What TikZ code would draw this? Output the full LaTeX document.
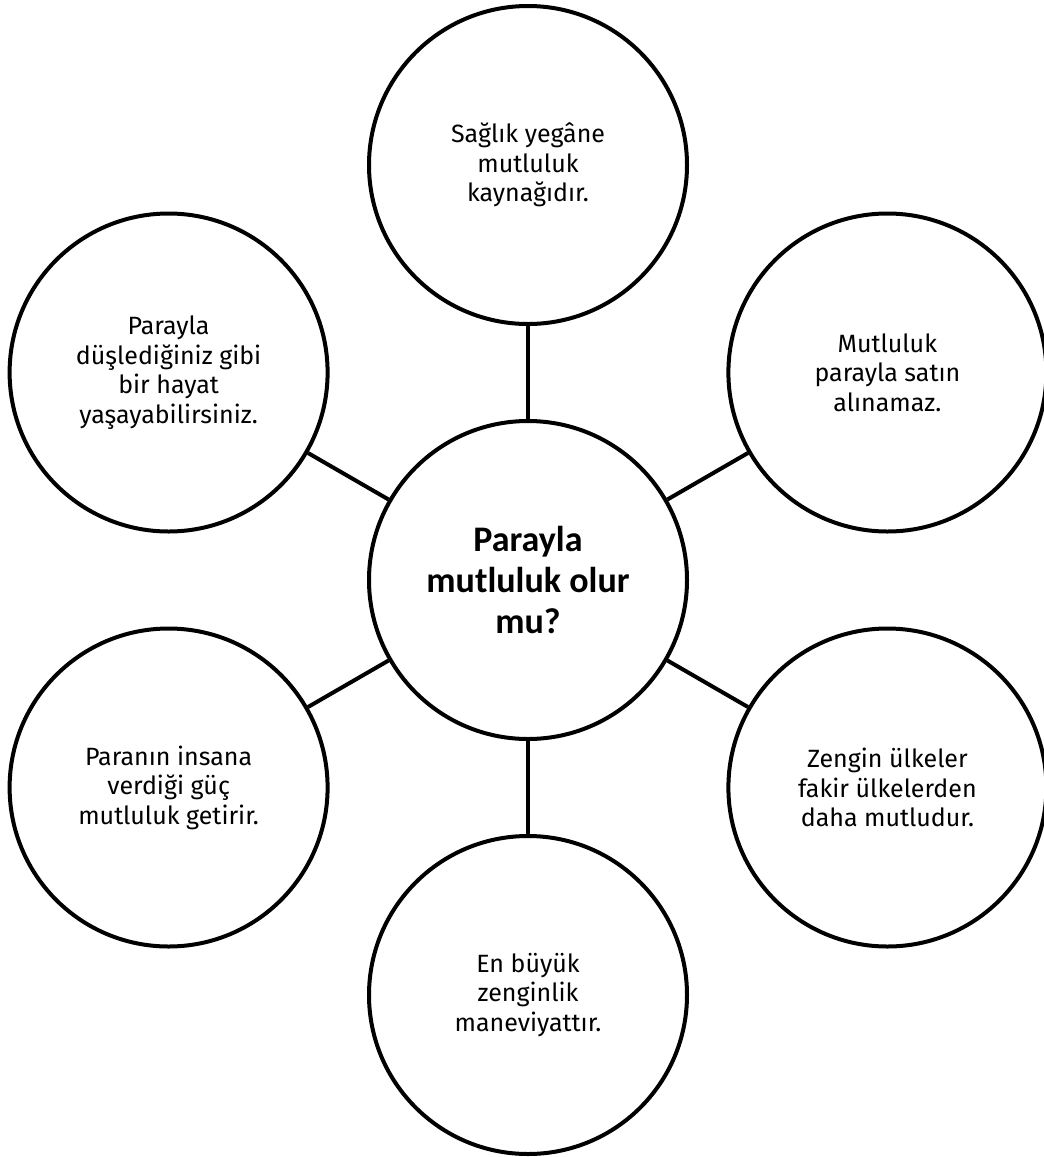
\documentclass[tikz,border=0pt]{standalone}
\usepackage{fontspec}
\setmainfont{Fira Sans}
\newfontfamily\centerfont{Carlito}
\begin{document}
\begin{tikzpicture}[x=1pt,y=-1pt,
  bubble/.style={circle,draw=black,line width=4pt,fill=white,inner sep=0pt,
    minimum size=318pt,align=center,font=\fontsize{25}{29.5}\selectfont},
  hub/.style={bubble,font=\centerfont\bfseries\fontsize{36}{41}\selectfont},
  link/.style={draw=black,line width=4pt}]
\useasboundingbox (0,0) rectangle (1044,1157);
\node[hub] (c) at (528,580) {Parayla\\mutluluk olur\\mu?};
\node[bubble] (t) at (528,165) {Sağlık yegâne\\mutluluk\\kaynağıdır.};
\node[bubble] (ur) at (887.4,372.5) {Mutluluk\\parayla satın\\alınamaz.};
\node[bubble] (lr) at (887.4,787.5) {Zengin ülkeler\\fakir ülkelerden\\daha mutludur.};
\node[bubble] (b) at (528,995) {En büyük\\zenginlik\\maneviyattır.};
\node[bubble] (ll) at (168.6,787.5) {Paranın insana\\verdiği güç\\mutluluk getirir.};
\node[bubble] (ul) at (168.6,372.5) {Parayla\\düşlediğiniz gibi\\bir hayat\\yaşayabilirsiniz.};
\foreach \n in {t,ur,lr,b,ll,ul} \draw[link] (c) -- (\n);
\end{tikzpicture}
\end{document}
